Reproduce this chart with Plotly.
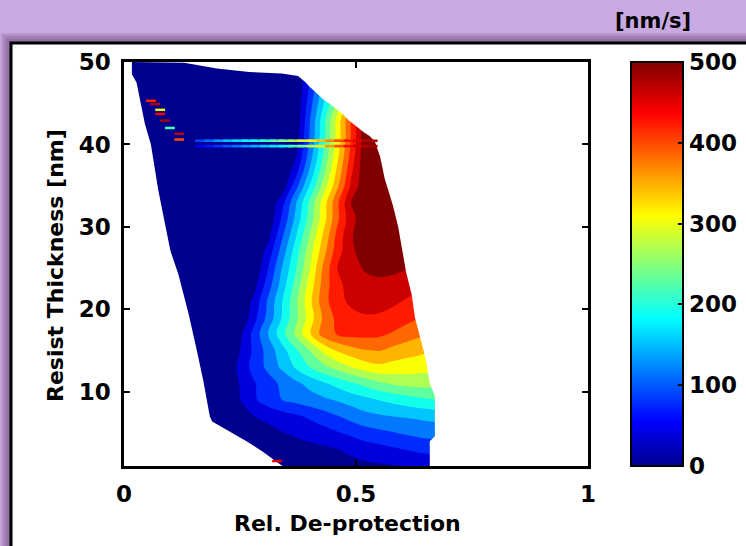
import plotly.graph_objects as go

# ---------------- data ----------------
# grid of relative de-protection (x) and resist thickness (y, nm)
deprotection = [0.00, 0.15, 0.22, 0.25, 0.28, 0.31, 0.34, 0.37, 0.40, 0.43,
                0.46, 0.49, 0.52, 0.55, 0.58, 0.61, 0.64, 0.67, 0.70]
thickness_nm = [1, 3, 5, 7, 9, 11, 13, 15, 17, 19, 21, 23, 25, 27, 29, 31,
                33, 35, 37, 39, 41, 43, 45, 47, 50]

# development rate [nm/s], one row per thickness value
rate_nm_s = [
    [11, 11, 11, 11, 11, 12, 14, 16, 18, 20, 22, 25, 28, 31, 34, 36, 39, 39, 39],          # 1
    [11, 11, 11, 11, 11, 18, 20, 21, 25, 29, 35, 43, 52, 59, 66, 73, 80, 84, 84],          # 3
    [11, 11, 12, 14, 18, 23, 34, 41, 48, 57, 68, 79, 91, 98, 105, 112, 118, 121, 121],     # 5
    [11, 11, 11, 18, 35, 45, 55, 65, 77, 91, 105, 120, 132, 138, 143, 146, 150, 154, 154],  # 7
    [11, 11, 7, 35, 66, 88, 107, 117, 127, 136, 146, 157, 168, 179, 189, 198, 207, 213, 214],  # 9
    [11, 11, 7, 38, 68, 92, 114, 134, 154, 173, 191, 209, 225, 242, 255, 261, 262, 262, 262],  # 11
    [11, 11, 5, 45, 85, 115, 150, 183, 214, 241, 264, 286, 304, 313, 307, 304, 300, 296, 296],  # 13
    [11, 11, 7, 35, 79, 121, 164, 207, 250, 293, 325, 343, 355, 359, 346, 336, 329, 321, 321],  # 15
    [11, 11, 4, 26, 84, 142, 200, 257, 316, 374, 396, 404, 404, 400, 389, 375, 364, 357, 357],  # 17
    [11, 11, 7, 2, 58, 118, 179, 240, 302, 364, 404, 418, 425, 423, 414, 404, 393, 386, 386],  # 19
    [11, 11, 7, 2, 44, 112, 176, 241, 312, 378, 418, 436, 443, 443, 436, 425, 414, 411, 411],  # 21
    [11, 11, 11, 7, 22, 88, 157, 227, 299, 372, 421, 441, 454, 457, 454, 445, 436, 432, 432],  # 23
    [11, 11, 11, 11, 4, 69, 143, 210, 283, 365, 429, 452, 468, 473, 471, 466, 461, 461, 461],  # 25
    [11, 11, 11, 11, 2, 48, 122, 196, 270, 344, 414, 459, 479, 486, 486, 482, 479, 479, 479],  # 27
    [11, 11, 11, 11, 4, 23, 99, 175, 251, 327, 404, 462, 482, 493, 493, 493, 493, 493, 493],  # 29
    [11, 11, 11, 11, 7, 4, 75, 152, 230, 307, 385, 454, 486, 493, 493, 493, 493, 493, 493],  # 31
    [11, 11, 11, 11, 11, 2, 55, 138, 220, 302, 385, 467, 493, 493, 493, 493, 493, 493, 493],  # 33
    [11, 11, 11, 11, 11, 11, 7, 93, 179, 264, 350, 436, 493, 493, 493, 493, 493, 493, 493],  # 35
    [11, 11, 11, 11, 11, 11, 2, 51, 144, 236, 328, 421, 493, 493, 493, 493, 493, 493, 493],  # 37
    [11, 11, 11, 11, 11, 11, 11, 26, 121, 216, 311, 405, 493, 493, 493, 493, 493, 493, 493],  # 39
    [11, 11, 11, 11, 11, 11, 11, 13, 109, 205, 300, 396, 492, 493, 493, 493, 493, 493, 493],  # 41
    [11, 11, 11, 11, 11, 11, 11, 6, 104, 201, 299, 396, 493, 493, 493, 493, 493, 493, 493],  # 43
    [11, 11, 11, 11, 11, 11, 11, 4, 90, 176, 261, 347, 433, 493, 493, 493, 493, 493, 493],  # 45
    [11, 11, 11, 11, 11, 11, 11, 0, 76, 161, 247, 333, 419, 493, 493, 493, 493, 493, 493],  # 47
    [11, 11, 11, 11, 11, 11, 11, 0, 70, 156, 241, 327, 413, 493, 493, 493, 493, 493, 493],  # 50
]

# boundary of the measured region
left_edge_x = [0.345, 0.300, 0.264, 0.228, 0.190, 0.185, 0.171, 0.157, 0.139,
               0.117, 0.100, 0.074, 0.058, 0.045, 0.036, 0.027, 0.017, 0.017]
left_edge_y = [0.85, 2.7, 4.0, 5.2, 6.4, 7.0, 11.3, 15.0, 19.5,
               24.3, 27.1, 34.4, 40.0, 42.5, 45.0, 47.5, 48.5, 50.0]
right_edge_x = [0.017, 0.13, 0.20, 0.27, 0.34, 0.375, 0.39, 0.40, 0.419, 0.433,
                0.444, 0.458, 0.473, 0.483, 0.494, 0.505, 0.516, 0.530, 0.541,
                0.552, 0.562, 0.571, 0.580, 0.591, 0.600, 0.608, 0.620, 0.627,
                0.641, 0.651, 0.659, 0.670, 0.670, 0.659, 0.659]
right_edge_y = [50.0, 49.9, 49.2, 48.8, 48.6, 48.3, 47.6, 47.0, 46.0, 45.3,
                44.9, 44.3, 43.6, 43.0, 42.5, 42.0, 41.5, 41.0, 40.3,
                38.5, 35.8, 34.2, 32.5, 30.0, 27.2, 24.5, 21.8, 19.0,
                16.0, 13.8, 11.0, 9.5, 4.6, 4.0, 0.85]

# thin high-rate streaks near 40 nm
streak_x = [0.17, 0.19, 0.21, 0.23, 0.25, 0.27, 0.29, 0.31, 0.33, 0.35,
            0.37, 0.39, 0.41, 0.43, 0.45, 0.47, 0.49, 0.51, 0.53]
streak_upper_y = 40.45
streak_upper = [90, 110, 130, 150, 165, 180, 195, 210, 225, 245,
                265, 290, 315, 340, 370, 400, 430, 455, 475]
streak_lower_y = 39.8
streak_lower = [50, 65, 80, 95, 110, 125, 140, 155, 170, 190,
                215, 245, 280, 320, 360, 400, 435, 460, 480]

# isolated outlier specks
speck_x = [0.058, 0.067, 0.078, 0.078, 0.088, 0.099, 0.119, 0.119, 0.330]
speck_y = [45.3, 44.9, 44.2, 43.7, 42.9, 42.0, 41.3, 40.6, 1.6]
speck_rate = [420, 470, 300, 440, 480, 220, 470, 400, 450]

cbar_ticks = [0, 100, 200, 300, 400, 500]
x_ticks = [0, 0.5, 1]
x_ticktext = ["0", "0.5", "1"]
y_ticks = [10, 20, 30, 40, 50]

# ---------------- styling ----------------
JET = [[0.0, "#00008F"], [0.111, "#0000FF"], [0.365, "#00FFFF"],
       [0.619, "#FFFF00"], [0.873, "#FF0000"], [1.0, "#800000"]]
FONT = "DejaVu Sans"
LAV = "#C9A9E1"

# layout geometry (pixels)
W, H = 746, 546
PL, PR, PT, PB = 124, 588, 62, 466


def px_x(p):
    return (p - PL) / (PR - PL)


def px_y(p):
    return (PB - p) / (PB - PT)


fig = go.Figure()

step = 500 / 14
fig.add_trace(go.Contour(
    x=deprotection, y=thickness_nm, z=rate_nm_s,
    colorscale=JET, autocontour=False,
    contours=dict(start=step, end=13 * step, size=step, coloring="fill",
                  showlines=False),
    line=dict(width=0), showscale=False, hoverinfo="skip",
))

# white masks outside the measured region
fig.add_trace(go.Scatter(
    x=[-0.1, left_edge_x[0]] + left_edge_x + [left_edge_x[-1], -0.1],
    y=[0, 0] + left_edge_y + [51, 51],
    fill="toself", fillcolor="white", mode="lines", line=dict(width=0),
    hoverinfo="skip", showlegend=False,
))
fig.add_trace(go.Scatter(
    x=[right_edge_x[0]] + right_edge_x + [right_edge_x[-1], 1.1, 1.1],
    y=[51] + right_edge_y + [0, 0, 51],
    fill="toself", fillcolor="white", mode="lines", line=dict(width=0),
    hoverinfo="skip", showlegend=False,
))

# streaks (this trace also carries the colour bar)
s_vals = streak_upper + streak_lower
fig.add_trace(go.Scatter(
    x=streak_x + streak_x,
    y=[streak_upper_y] * len(streak_x) + [streak_lower_y] * len(streak_x),
    mode="markers", hoverinfo="skip", showlegend=False,
    marker=dict(
        symbol="line-ew", size=11, color=s_vals, colorscale=JET,
        cmin=0, cmax=500, showscale=True,
        line=dict(width=2.5, color=s_vals, colorscale=JET, cmin=0, cmax=500),
        colorbar=dict(
            x=px_x(631), xanchor="left", xpad=0,
            y=0.5, yanchor="middle", ypad=0,
            thickness=52, thicknessmode="pixels",
            len=PB - PT, lenmode="pixels",
            outlinecolor="black", outlinewidth=2,
            tickvals=cbar_ticks, ticks="inside", ticklen=6, tickwidth=2,
            tickcolor="black",
            tickfont=dict(family=FONT, size=23, color="black", weight="bold"),
        ),
    ),
))

fig.add_trace(go.Scatter(
    x=speck_x, y=speck_y, mode="markers", hoverinfo="skip", showlegend=False,
    marker=dict(symbol="line-ew", size=7,
                line=dict(width=2.5, color=speck_rate, colorscale=JET,
                          cmin=0, cmax=500)),
))

# panel with shadow
shapes = []
for k in range(5, 0, -1):
    d = 2 * k
    shapes.append(dict(type="rect", xref="paper", yref="paper", layer="below",
                       x0=px_x(11 - d), x1=px_x(800), y0=px_y(43 - d), y1=px_y(600),
                       fillcolor="rgba(70,35,90,0.13)", line=dict(width=0)))
shapes.append(dict(type="rect", xref="paper", yref="paper", layer="below",
                   x0=px_x(11), x1=px_x(800), y0=px_y(43), y1=px_y(600),
                   fillcolor="white", line=dict(color="black", width=3)))

tickfont = dict(family=FONT, size=23, color="black", weight="bold")
axis_common = dict(showline=True, linecolor="black", linewidth=2.5,
                   mirror="ticks", ticks="inside", ticklen=6, tickwidth=2,
                   tickcolor="black", showgrid=False, zeroline=False,
                   tickfont=tickfont)

title_font = dict(family=FONT, size=22, color="black", weight="bold")
fig.update_layout(
    width=W, height=H, autosize=False,
    margin=dict(l=PL, r=W - PR, t=PT, b=H - PB, pad=0, autoexpand=False),
    paper_bgcolor=LAV, plot_bgcolor="white",
    showlegend=False,
    shapes=shapes,
    xaxis=dict(range=[0, 1], tickvals=x_ticks, ticktext=x_ticktext,
               ticklabelstandoff=6, automargin=False, **axis_common),
    yaxis=dict(range=[1, 50], tickvals=y_ticks, ticklabelstandoff=6,
               automargin=False, **axis_common),
    annotations=[
        dict(text="Resist Thickness [nm]", xref="paper", yref="paper",
             x=px_x(55), y=px_y(266), textangle=-90, showarrow=False,
             xanchor="center", yanchor="middle", font=title_font),
        dict(text="Rel. De-protection", xref="paper", yref="paper",
             x=px_x(347), y=px_y(523), showarrow=False,
             xanchor="center", yanchor="middle", font=title_font),
        dict(text="[nm/s]", xref="paper", yref="paper",
             x=px_x(653), y=px_y(21), showarrow=False,
             xanchor="center", yanchor="middle",
             font=dict(family=FONT, size=21, color="black", weight="bold")),
    ],
)

fig.write_html("out.html")
